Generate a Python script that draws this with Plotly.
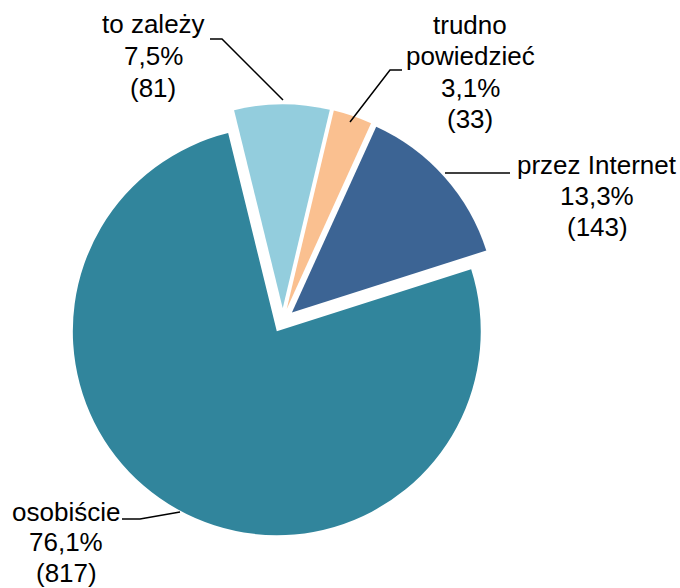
import plotly.graph_objects as go

# ---- data ----
categories = ["to zależy", "trudno powiedzieć", "przez Internet", "osobiście"]
label_lines = [["to zależy"], ["trudno", "powiedzieć"], ["przez Internet"], ["osobiście"]]
counts = [81, 33, 143, 817]
colors = ["#93CDDD", "#FAC090", "#3C6494", "#31859C"]

W, H = 680, 588
total = sum(counts)


def px(x, y):
    return x / W, (H - y) / H


# label block centers (pixels) and leader-line polylines (pixels)
label_centers = [(153, 56), (470, 72), (597, 196), (66, 542)]
leaders = [
    [(210, 39), (222, 39), (283, 100)],
    [(402, 70), (390, 70), (350, 122)],
    [(445, 173), (510, 173)],
    [(122, 519), (140, 519), (180, 512)],
]
pitches = [31.5, 31.5, 31.5, 30.5]

fig = go.Figure(
    go.Pie(
        labels=categories,
        values=counts,
        sort=False,
        direction="clockwise",
        rotation=-13.8,
        pull=[0.06, 0.06, 0.06, 0.06],
        marker=dict(colors=colors, line=dict(width=0)),
        textinfo="none",
        hoverinfo="skip",
        showlegend=False,
        domain=dict(x=[0.0979, 0.7338], y=[0.0872, 0.8226]),
    )
)

annotations = []
for i, cat in enumerate(categories):
    pct = f"{counts[i] / total * 100:.1f}".replace(".", ",") + "%"
    lines = label_lines[i] + [pct, f"({counts[i]})"]
    cx, cy = label_centers[i]
    n = len(lines)
    for j, t in enumerate(lines):
        yy = cy + (j - (n - 1) / 2) * pitches[i]
        ax, ay = px(cx, yy)
        annotations.append(
            dict(
                x=ax, y=ay, xref="paper", yref="paper", text=t, showarrow=False,
                xanchor="center", yanchor="middle",
                font=dict(family="Liberation Sans, Arial, sans-serif", size=26, color="#000000"),
            )
        )

shapes = []
for poly in leaders:
    pts = [px(x, y) for x, y in poly]
    path = "M " + " L ".join(f"{a:.5f},{b:.5f}" for a, b in pts)
    shapes.append(dict(type="path", xref="paper", yref="paper", path=path,
                       line=dict(color="#000000", width=1.5)))

fig.update_layout(
    width=W, height=H,
    margin=dict(l=0, r=0, t=0, b=0),
    paper_bgcolor="white", plot_bgcolor="white",
    annotations=annotations, shapes=shapes,
)

fig.write_html(
    "out.html",
    config={"displayModeBar": False},
    post_script="document.body.style.margin='0';document.body.style.overflow='hidden';",
)
